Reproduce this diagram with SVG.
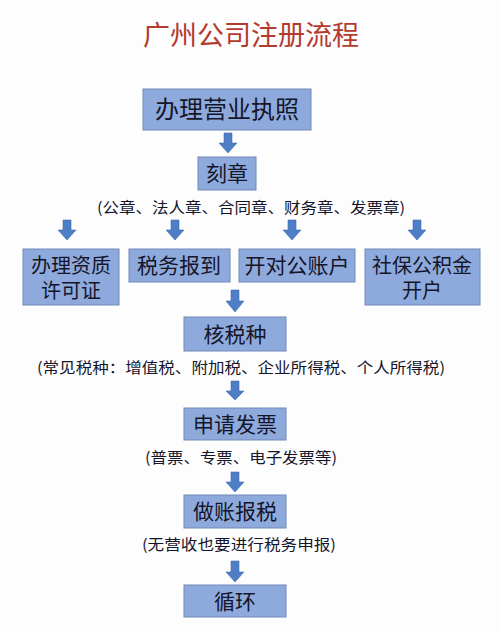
<svg xmlns="http://www.w3.org/2000/svg" width="500" height="633" viewBox="0 0 500 633">
<style>
.box{fill:#8eaadc;stroke:#7388b8;stroke-width:1}
.t{font-family:"Noto Sans CJK SC","Noto Sans",sans-serif;fill:#15152a;text-anchor:middle}
.bt{font-size:21px}
.b2{font-size:20px}
.lb{font-size:15px}
.arr{fill:#4d7ec6;stroke:#3f6db0;stroke-width:0.6}
</style>
<rect width="500" height="633" fill="#fdfdfe"/>
<text x="251" y="45" class="t" style="font-size:27px;fill:#b33a2d">广州公司注册流程</text>
<g id="connectors">
<path class="arr" d="M224,133 H232 V143 H237 L228,153 L219,143 H224 Z"/>
<path class="arr" d="M63,220 H71 V230 H76 L67,240 L58,230 H63 Z"/>
<path class="arr" d="M171,220 H179 V230 H184 L175,240 L166,230 H171 Z"/>
<path class="arr" d="M288,220 H296 V230 H301 L292,240 L283,230 H288 Z"/>
<path class="arr" d="M413,220 H421 V230 H426 L417,240 L408,230 H413 Z"/>
<path class="arr" d="M231,290 H239 V301 H244 L235,312 L226,301 H231 Z"/>
<path class="arr" d="M231,381 H239 V391 H244 L235,400 L226,391 H231 Z"/>
<path class="arr" d="M231,472 H239 V482 H244 L235,492 L226,482 H231 Z"/>
<path class="arr" d="M231,561 H239 V572 H244 L235,582 L226,572 H231 Z"/>
</g>
<g id="n1"><rect class="box" x="143" y="89" width="168" height="41"/><text class="t" x="227" y="118" style="font-size:24px">办理营业执照</text></g>
<g id="n2"><rect class="box" x="198" y="157" width="58" height="33"/><text class="t bt" x="227" y="181">刻章</text></g>
<text class="t lb" x="251" y="213" textLength="308" lengthAdjust="spacingAndGlyphs">(公章、法人章、合同章、财务章、发票章)</text>
<g id="n3"><rect class="box" x="23" y="249" width="96" height="56"/><text class="t b2"><tspan x="71" y="273">办理资质</tspan><tspan x="71" y="298">许可证</tspan></text></g>
<g id="n4"><rect class="box" x="129" y="249" width="101" height="33"/><text class="t bt" x="179" y="273">税务报到</text></g>
<g id="n5"><rect class="box" x="239" y="249" width="116" height="33"/><text class="t bt" x="297" y="273">开对公账户</text></g>
<g id="n6"><rect class="box" x="365" y="249" width="115" height="56"/><text class="t b2"><tspan x="422" y="273">社保公积金</tspan><tspan x="422" y="298">开户</tspan></text></g>
<g id="n7"><rect class="box" x="184" y="317" width="102" height="34"/><text class="t bt" x="235" y="342">核税种</text></g>
<text class="t lb" x="241" y="373" textLength="408" lengthAdjust="spacingAndGlyphs">(常见税种：增值税、附加税、企业所得税、个人所得税)</text>
<g id="n8"><rect class="box" x="184" y="408" width="102" height="32"/><text class="t bt" x="235" y="432">申请发票</text></g>
<text class="t lb" x="241" y="463" textLength="192" lengthAdjust="spacingAndGlyphs">(普票、专票、电子发票等)</text>
<g id="n9"><rect class="box" x="184" y="495" width="102" height="33"/><text class="t bt" x="235" y="519">做账报税</text></g>
<text class="t lb" x="239" y="550" textLength="194" lengthAdjust="spacingAndGlyphs">(无营收也要进行税务申报)</text>
<g id="n10"><rect class="box" x="184" y="585" width="102" height="32"/><text class="t bt" x="235" y="609">循环</text></g>
</svg>
